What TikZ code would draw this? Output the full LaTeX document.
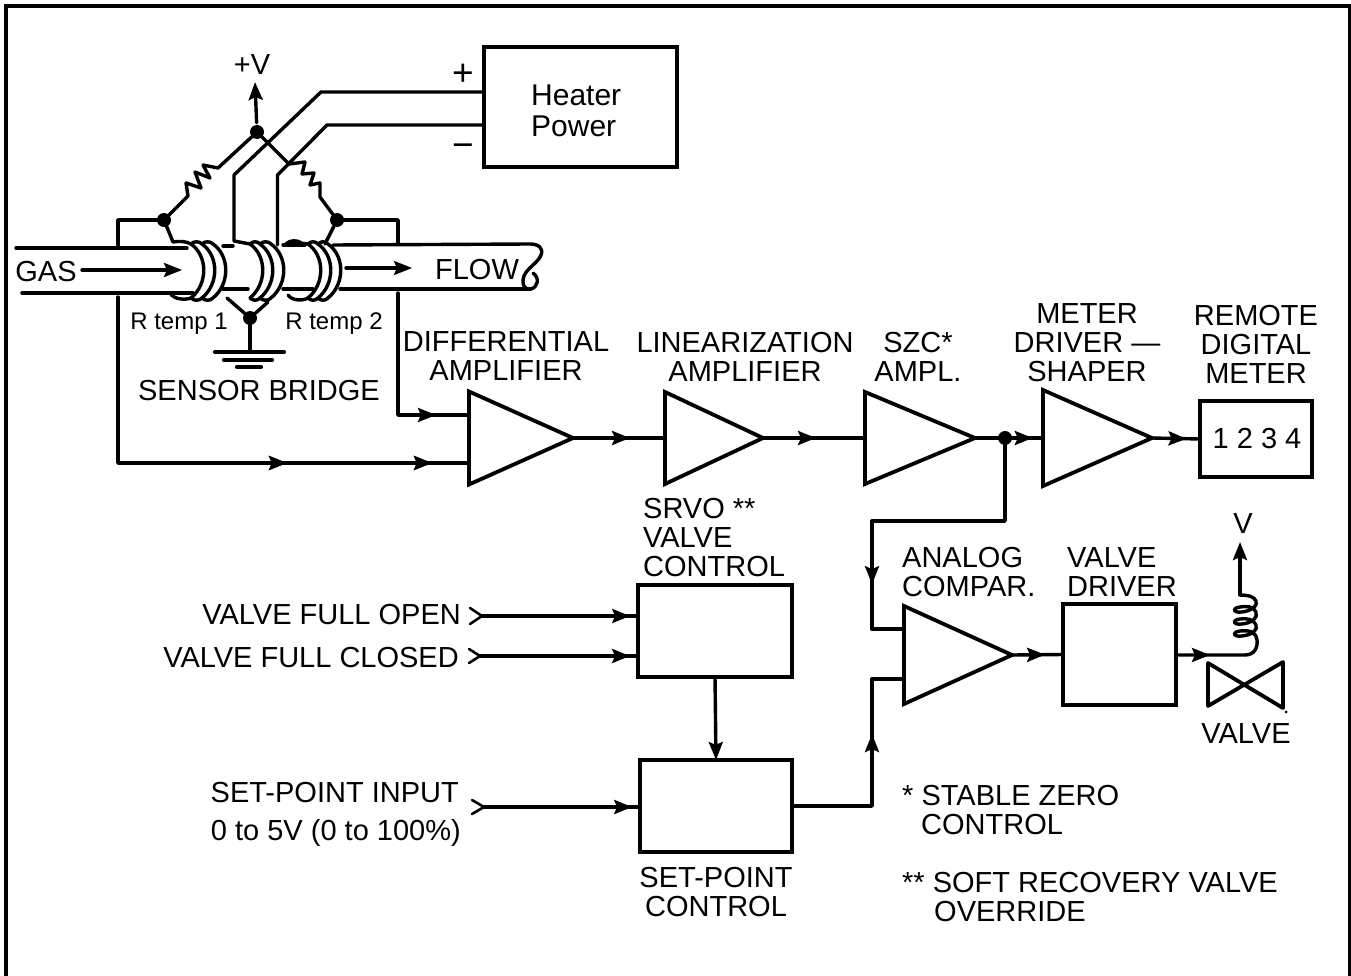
\documentclass[tikz,border=0pt]{standalone}
\usepackage{fontspec}
\setmainfont{Liberation Sans}
\usetikzlibrary{arrows.meta,shapes.geometric,decorations.markings}
\tikzset{
  wire/.style={line width=3.4pt,line join=round,line cap=round},
  boxnode/.style={draw,line width=3.8pt,inner sep=0pt,outer sep=0pt,rectangle},
  ampnode/.style={draw,line width=3.8pt,inner sep=0pt,outer sep=0pt,isosceles triangle,isosceles triangle stretches,anchor=apex},
  lbl/.style={font=\fontsize{29}{29}\selectfont,inner sep=0pt,align=center,yshift=-1pt},
  lleft/.style={lbl,align=left,anchor=west},
  lright/.style={lbl,align=right,anchor=east},
  small/.style={font=\fontsize{24}{24}\selectfont,inner sep=0pt,yshift=-1pt},
  big/.style={font=\fontsize{37}{37}\selectfont,inner sep=0pt},
  jdot/.style={circle,fill=black,draw=none,minimum size=14pt,inner sep=0pt},
  flowmark/.style={decoration={markings,mark=at position #1 with {\arrow{Stealth[length=18pt,width=14pt,inset=3pt]}}},postaction={decorate}},
  tip/.style={-{Stealth[length=18pt,width=14pt,inset=3pt]}},
  winding/.style={line width=3.4pt,line join=round,line cap=round}
}
\begin{document}
\begin{tikzpicture}[x=1pt,y=-1pt]
\useasboundingbox (0,0) rectangle (1351,976);
\draw[line width=3.4pt] (6,976) -- (6,6) -- (1349.5,6) -- (1349.5,976);

% boxes
\node[boxnode,minimum width=193pt,minimum height=120pt] (heater) at (580.5,107) {};
\node[boxnode,minimum width=112pt,minimum height=76pt] (meterbox) at (1256,439) {};
\node[boxnode,minimum width=113pt,minimum height=101pt] (vdriver) at (1119.5,654.5) {};
\node[boxnode,minimum width=154pt,minimum height=92pt] (srvo) at (715,631) {};
\node[boxnode,minimum width=152pt,minimum height=92pt] (setpoint) at (716,806) {};

% amplifiers
\node[ampnode,minimum width=93pt,minimum height=104pt] (diff) at (573,438) {};
\node[ampnode,minimum width=92pt,minimum height=98pt] (lin) at (763,438) {};
\node[ampnode,minimum width=92pt,minimum height=110pt] (szc) at (975,438) {};
\node[ampnode,minimum width=96pt,minimum height=109pt] (drv) at (1152,438) {};
\node[ampnode,minimum width=98pt,minimum height=108pt] (comp) at (1012,655) {};

% junctions
\node[jdot] (top) at (257,132) {};
\node[jdot] (ldot) at (164,220) {};
\node[jdot] (rdot) at (337,220) {};
\node[jdot] (gnd) at (250,318) {};
\node[jdot] (split) at (1005,438) {};

% free ends
\coordinate (vplus) at (255,82);
\coordinate (hplus) at (484,92);
\coordinate (hminus) at (484,125);
\coordinate (da) at (469,415);
\coordinate (db) at (469,463);
\coordinate (ca) at (904,629);
\coordinate (cb) at (904,679);
\coordinate (vout) at (1176,655);
\coordinate (sopen) at (482,616);
\coordinate (sclosed) at (480,656);
\coordinate (sset) at (484,807);
\coordinate (iopen) at (638,616);
\coordinate (iclosed) at (638,656);
\coordinate (iset) at (640,807);

% pipe
\draw[wire] (16,248) -- (187,248);
\draw[wire] (22,293) -- (193,293);
\draw[wire] (223,246) -- (233,246);
\draw[wire] (283,245) -- (305,245);
\draw[wire] (223,289) -- (248,289);
\draw[wire] (283,289) -- (313,289);
\draw[wire] (333,245) -- (530,244) .. controls (538,244) and (544,248) .. (541,255)
  .. controls (538,263) and (527,268) .. (524,276) .. controls (521,284) and (525,291) .. (531,289)
  .. controls (538,287) and (540,278) .. (533,273);
\draw[wire] (340,289) -- (530,289);

% coils
\foreach \cx in {191,202,213,250,260,271,308,318,328}{
  \draw[winding] (\cx,244) .. controls (\cx+17,256) and (\cx+17,284) .. (\cx,298);
}
\foreach \cx/\nx in {191/202,202/213,250/260,260/271,308/318,318/328}{
  \draw[winding] (\cx,244) .. controls (\cx+3,241) and (\nx-3,241) .. (\nx,244);
  \draw[winding] (\cx,298) .. controls (\cx+3,301) and (\nx-3,301) .. (\nx,298);
}
\draw[wire] (ldot) -- (173,242) .. controls (178,241) and (186,241) .. (191,244);
\draw[wire] (170,293) .. controls (174,300) and (186,300) .. (191,298);
\draw[wire] (288,295) .. controls (292,301) and (303,301) .. (308,298);
\draw[wire] (rdot) -- (325,244);
\draw[wire,line width=5pt] (287,244) .. controls (291,241) and (296,241) .. (300,243);
\draw[wire] (300,243) -- (308,244);

% bridge
\draw[wire] (top) -- (218,168) -- (203,165) -- (210,178) -- (195,172) -- (201,188) -- (186,183) -- (188,196) -- (ldot);
\draw[wire] (top) -- (289,164) -- (305,162) -- (302,174) -- (314,173) -- (310,185) -- (320,183) -- (320,197) -- (rdot);
\draw[wire,tip,shorten <=2pt] (top) -- (vplus);
\draw[wire] (hplus) -- (321,92) -- (234,175) -- (234,241) -- (250,244);
\draw[wire] (hminus) -- (327,125) -- (277.5,175) -- (277.5,245);
\draw[wire] (227,298) -- (gnd) -- (268,302);
\draw[wire] (gnd) -- (250,352);
\draw[wire,line width=4.2pt] (215,352) -- (284,352);
\draw[wire,line width=4.2pt] (224,360) -- (272,360);
\draw[wire,line width=4.2pt] (237,367) -- (261,367);

% bridge outputs
\draw[wire] (ldot) -- (118,220) -- (118,245);
\draw[wire] (rdot) -- (398,220) -- (398,243);
\draw[wire,flowmark=160pt] (398,293) -- (398,415) -- (da);
\draw[wire,flowmark=335pt,flowmark=480pt] (118,297) -- (118,463) -- (db);

% gas flow
\draw[wire,tip] (82,270) -- (182,270);
\draw[wire,tip] (346,268) -- (412,268);

% signal path
\draw[wire,flowmark=0.62] (diff.apex) -- (lin.lower side);
\draw[wire,flowmark=0.52] (lin.apex) -- (szc.lower side);
\draw[wire,flowmark=0.85] (szc.apex) -- (drv.lower side);
\draw[wire,flowmark=0.72] (drv.apex) -- (meterbox.west);
\draw[wire,flowmark=272pt] (split) -- (1005,521) -- (872,521) -- (872,629) -- (ca);
\draw[wire,flowmark=152pt] (setpoint.east) -- (872,806) -- (872,679) -- (cb);
\draw[wire,flowmark=0.65] (comp.apex) -- (vdriver.west);
\draw[wire,tip] (srvo.south) -- (setpoint.north);
\draw[wire,flowmark=0.95] (sopen) -- (iopen |- sopen);
\draw[wire,flowmark=0.95] (sclosed) -- (iclosed |- sclosed);
\draw[wire,flowmark=0.95] (sset) -- (iset |- sset);
\draw[wire,line width=2.6pt] (470,608) -- (sopen) -- (470,624);
\draw[wire,line width=2.6pt] (469,649) -- (sclosed) -- (469,663);
\draw[wire,line width=2.6pt] (472,800) -- (sset) -- (472,814);

% solenoid and valve
\draw[wire,flowmark=34pt] (vout) -- (1245,655) .. controls (1254,655) and (1258,648) .. (1257,640)
 .. controls (1256,632) and (1250,630) .. (1240,631) .. controls (1232,632) and (1232,637) .. (1242,636)
 .. controls (1252,635) and (1258,630) .. (1256,625) .. controls (1254,619) and (1246,618) .. (1240,619)
 .. controls (1232,620) and (1232,625) .. (1242,624) .. controls (1252,623) and (1258,618) .. (1256,612)
 .. controls (1254,606) and (1246,606) .. (1240,607) .. controls (1232,608) and (1232,613) .. (1242,612)
 .. controls (1252,611) and (1258,605) .. (1256,601) .. controls (1254,596) and (1247,595) .. (1240,595);
\coordinate (sol) at (1240,595);
\coordinate (vv) at (1240,542);
\draw[wire,tip] (sol) -- (vv);
\draw[line width=3.8pt,line join=round] (1208,663) -- (1283,708) -- (1283,662) -- (1208,706) -- cycle;
\fill (1286,712) circle (1.5pt);

% labels
\node[lbl] (lv) at (252,64) {+V};
\node[big] (lp) at (463,75) {+};
\node[big] (lm) at (463,151) {−};
\node[lleft,anchor=west,font=\fontsize{30}{31}\selectfont] (lheat) at (531,109.5) {Heater\\Power};
\node[lbl] (lgas) at (46,271) {GAS};
\node[lbl] (lflow) at (477,269) {FLOW};
\node[small] (lr1) at (179,323) {R temp 1};
\node[small] (lr2) at (334,323) {R temp 2};
\node[lbl] (lsb) at (259,390) {SENSOR BRIDGE};
\node[lbl] (ldiff) at (506,355.5) {DIFFERENTIAL\\AMPLIFIER};
\node[lbl] (llin) at (745,355.5) {LINEARIZATION\\AMPLIFIER};
\node[lbl] (lszc) at (918,355.5) {SZC*\\AMPL.};
\node[lbl] (lmd) at (1087,341.5) {METER\\DRIVER —\\SHAPER};
\node[lbl] (lrem) at (1256,343) {REMOTE\\DIGITAL\\METER};
\node[lbl] (l1234) at (1257,438) {1 2 3 4};
\node[lleft] (lsrvo) at (643,537) {SRVO **\\VALVE\\CONTROL};
\node[lleft] (lac) at (902,571.5) {ANALOG\\COMPAR.};
\node[lleft] (lvd) at (1067,571.5) {VALVE\\DRIVER};
\node[lbl] (lvv) at (1243,523) {V};
\node[lbl] (lval) at (1246,733) {VALVE};
\node[lright] (lfo) at (461,614) {VALVE FULL OPEN};
\node[lright] (lfc) at (459,657) {VALVE FULL CLOSED};
\node[lright] (lsi) at (459,792) {SET-POINT INPUT};
\node[lright] (lrange) at (461,832) {0 to 5V (0 to 100\%)};
\node[lbl] (lspc) at (716,891.5) {SET-POINT\\CONTROL};
\node[lleft] (ln1) at (902,795) {* STABLE ZERO};
\node[lleft] (ln1b) at (921,824) {CONTROL};
\node[lleft] (ln2) at (902,882) {** SOFT RECOVERY VALVE};
\node[lleft] (ln2b) at (934,911) {OVERRIDE};
\end{tikzpicture}
\end{document}
